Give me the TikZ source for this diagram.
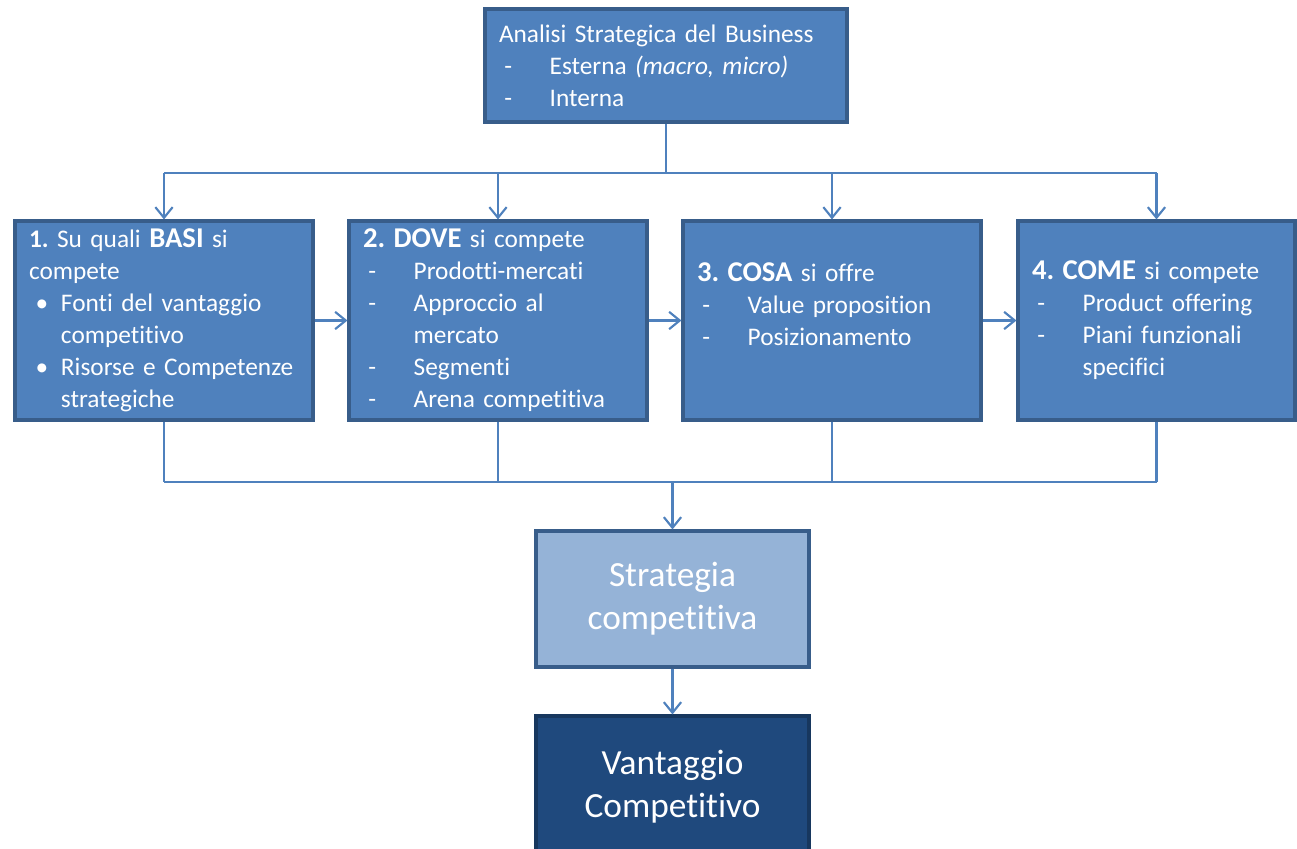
\documentclass[tikz,border=0pt]{standalone}
\usepackage{fontspec}
\setmainfont{Carlito}[Ligatures=NoCommon]
\usepackage{xcolor}
\usepackage{tikz}
\usetikzlibrary{arrows.meta,positioning}
\frenchspacing

\definecolor{boxblue}{HTML}{4F81BD}
\definecolor{boxline}{HTML}{385D8A}
\definecolor{lightblue}{HTML}{95B3D7}
\definecolor{darkblue}{HTML}{1F497D}
\definecolor{darkline}{HTML}{17375E}

\newcommand{\kw}[1]{{\fontsize{21.5}{24}\selectfont\bfseries #1}}
\newcommand{\dashitem}[1]{\makebox[38pt][l]{\hspace{4pt}-}#1}
\newcommand{\dashcont}[1]{\hspace*{38pt}#1}
\newcommand{\bulletitem}[1]{\makebox[24pt][l]{\hspace{5pt}\textbullet}#1}
\newcommand{\bulletcont}[1]{\hspace*{24pt}#1}

\begin{document}
\begin{tikzpicture}[x=0.75pt, y=-0.75pt,
    box/.style={draw=boxline, line width=2.3pt, fill=boxblue, text=white, inner xsep=10.5pt,
        align=left, font=\fontsize{19}{24}\selectfont},
    bigbox/.style={draw=boxline, line width=2.3pt, text=white, align=center,
        minimum width=204.75pt, font=\fontsize{26.5}{32.5}\selectfont},
    link/.style={draw=boxblue, line width=1.9pt},
    arrow/.style={link, -{Straight Barb[length=8pt, width=13pt, line width=1.6pt]}}
]
\useasboundingbox (0,0) rectangle (1297,849);

\node[box, minimum width=271.5pt, minimum height=84.75pt, text width=250.5pt] (top) at (666,65.5)
    {Analisi Strategica del Business\\
     \dashitem{Esterna \textit{(macro, micro)}}\\
     \dashitem{Interna}};

\node[box, minimum width=223.5pt, minimum height=149.25pt, text width=202.5pt] (basi) at (164,320.5)
    {\textbf{1.} Su quali \kw{BASI} si\\
     compete\\
     \bulletitem{Fonti del vantaggio}\\
     \bulletcont{competitivo}\\
     \bulletitem{Risorse e Competenze}\\
     \bulletcont{strategiche}};
\node[box, minimum width=223.5pt, minimum height=149.25pt, text width=202.5pt] (dove) at (498,320.5)
    {\kw{2. DOVE} si compete\\
     \dashitem{Prodotti-mercati}\\
     \dashitem{Approccio al}\\
     \dashcont{mercato}\\
     \dashitem{Segmenti}\\
     \dashitem{Arena competitiva}};
\node[box, minimum width=223.5pt, minimum height=149.25pt, text width=202.5pt] (cosa) at (832,320.5)
    {\kw{3. COSA} si offre\\
     \dashitem{Value proposition}\\
     \dashitem{Posizionamento}\\
     \mbox{}};
\node[box, minimum width=207.75pt, minimum height=149.25pt, text width=186.75pt] (come) at (1156.5,320.5)
    {\kw{4. COME} si compete\\
     \dashitem{Product offering}\\
     \dashitem{Piani funzionali}\\
     \dashcont{specifici}};

\node[bigbox, fill=lightblue, minimum height=102pt] (strategia) at (672.5,599)
    {Strategia\\competitiva};
\node[bigbox, fill=darkblue, draw=darkline, minimum height=106.5pt] (vantaggio) at (672.5,787)
    {Vantaggio\\Competitivo};

\coordinate (split) at (666,173);
\coordinate (merge) at (672.5,482);

\draw[link] (top.south) -- (split);
\draw[link] (basi.north |- split) -- (come.north |- split);
\foreach \b in {basi,dove,cosa,come}
    \draw[arrow] (\b.north |- split) -- (\b.north);

\draw[arrow] (basi) -- (dove);
\draw[arrow] (dove) -- (cosa);
\draw[arrow] (cosa) -- (come);

\foreach \b in {basi,dove,cosa,come}
    \draw[link] (\b.south) -- (\b.south |- merge);
\draw[link] (basi.south |- merge) -- (come.south |- merge);
\draw[arrow] (merge) -- (strategia.north);
\draw[arrow] (strategia) -- (vantaggio);
\end{tikzpicture}
\end{document}
